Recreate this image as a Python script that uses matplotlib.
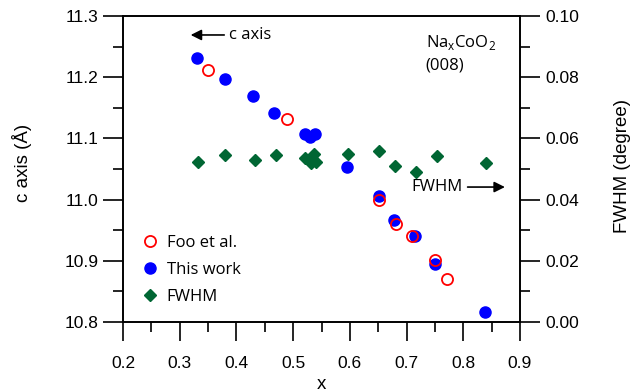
import matplotlib
matplotlib.use("Agg")
import matplotlib.pyplot as plt
from matplotlib.lines import Line2D

# Foo et al. (open red circles)
foo_x = [0.350, 0.490, 0.651, 0.681, 0.710, 0.750, 0.771]
foo_c = [11.211, 11.131, 11.000, 10.960, 10.941, 10.901, 10.870]

# This work (filled blue circles)
this_x = [0.330, 0.379, 0.430, 0.467, 0.521, 0.530, 0.539, 0.595, 0.651, 0.677, 0.715, 0.751, 0.838]
this_c = [11.231, 11.197, 11.170, 11.141, 11.107, 11.103, 11.107, 11.053, 11.006, 10.967, 10.941, 10.895, 10.817]

# FWHM (green diamonds, right axis)
fwhm_x = [0.332, 0.380, 0.432, 0.469, 0.521, 0.531, 0.537, 0.540, 0.596, 0.652, 0.679, 0.717, 0.753, 0.840]
fwhm_v = [0.0524, 0.0546, 0.0529, 0.0546, 0.0535, 0.0519, 0.0549, 0.0524, 0.0549, 0.0560, 0.0511, 0.0491, 0.0542, 0.0521]

x_ticks = [0.2, 0.3, 0.4, 0.5, 0.6, 0.7, 0.8, 0.9]
c_ticks = [10.8, 10.9, 11.0, 11.1, 11.2, 11.3]
f_ticks = [0.00, 0.02, 0.04, 0.06, 0.08, 0.10]

TICKFONT = "Liberation Sans"
NOTEFONT = "Open Sans"
BLUE = "#0000ff"
RED = "#ff0000"
GREEN = "#006633"

fig = plt.figure(figsize=(6.36, 3.92), dpi=100)
ax = fig.add_axes([123/636, 1-322/392, 397/636, 306/392])
ax2 = ax.twinx()

ax.plot(this_x, this_c, 'o', color=BLUE, markersize=8, zorder=3)
ax.plot(foo_x, foo_c, 'o', markerfacecolor='none', markeredgecolor=RED,
        markeredgewidth=1.3, markersize=8, zorder=4)
ax2.plot(fwhm_x, fwhm_v, 'D', color=GREEN, markersize=6, zorder=3)

ax.set_xlim(0.2, 0.9)
ax.set_ylim(10.8, 11.3)
ax2.set_ylim(0.0, 0.10)

ax.set_xticks(x_ticks)
ax.set_xticklabels([f"{v:.1f}" for v in x_ticks], fontfamily=TICKFONT, fontsize=12.5)
ax.set_xticks([v + 0.05 for v in x_ticks[:-1]], minor=True)
ax.set_yticks(c_ticks)
ax.set_yticklabels([f"{v:.1f}" for v in c_ticks], fontfamily=TICKFONT, fontsize=12.5)
ax.set_yticks([v + 0.05 for v in c_ticks[:-1]], minor=True)
ax2.set_yticks(f_ticks)
ax2.set_yticklabels([f"{v:.2f}" for v in f_ticks], fontfamily=TICKFONT, fontsize=12.5)
ax2.set_yticks([v + 0.01 for v in f_ticks[:-1]], minor=True)

for a in (ax, ax2):
    for s in a.spines.values():
        s.set_linewidth(1.2)
ax.tick_params(axis='both', which='major', direction='out', length=14.5, width=1.2, colors='black')
ax.tick_params(axis='both', which='minor', direction='out', length=7, width=1.2)
ax.tick_params(axis='y', which='major', pad=3)
ax.tick_params(axis='x', which='major', length=13.5, pad=11)
ax2.tick_params(axis='y', which='major', direction='out', length=14.5, width=1.2, pad=4)
ax2.tick_params(axis='y', which='minor', direction='out', length=7, width=1.2)

ax.set_xlabel("x", fontfamily=TICKFONT, fontsize=13.5)
ax.xaxis.set_label_coords(0.5, -0.175)
ax.set_ylabel("c axis (Å)", fontfamily=TICKFONT, fontsize=13.5)
ax.yaxis.set_label_coords(-0.228, 0.52)
ax2.set_ylabel("FWHM (degree)", fontfamily=TICKFONT, fontsize=13.5)
ax2.yaxis.set_label_coords(1.236, 0.51)

# annotations
ax.annotate("", xy=(0.1705, 0.938), xytext=(0.255, 0.938), xycoords='axes fraction',
            arrowprops=dict(arrowstyle='-|>', color='black', lw=1.2, mutation_scale=16,
                            shrinkA=0, shrinkB=0))
ax.text(0.267, 0.938, "c axis", transform=ax.transAxes, fontfamily=NOTEFONT,
        fontsize=12, va='center', ha='left')
ax.text(0.727, 0.441, "FWHM", transform=ax.transAxes, fontfamily=NOTEFONT,
        fontsize=12, va='center', ha='left')
ax.annotate("", xy=(0.962, 0.441), xytext=(0.868, 0.441), xycoords='axes fraction',
            arrowprops=dict(arrowstyle='-|>', color='black', lw=1.2, mutation_scale=16,
                            shrinkA=0, shrinkB=0))
ax.text(0.762, 0.913, r"Na$_\mathregular{x}$CoO$_\mathregular{2}$", transform=ax.transAxes,
        fontfamily=NOTEFONT, fontsize=12, va='center', ha='left')
ax.text(0.762, 0.838, "(008)", transform=ax.transAxes, fontfamily=NOTEFONT,
        fontsize=12, va='center', ha='left')

handles = [
    Line2D([], [], linestyle='none', marker='o', markerfacecolor='none',
           markeredgecolor=RED, markeredgewidth=1.3, markersize=8),
    Line2D([], [], linestyle='none', marker='o', color=BLUE, markersize=8),
    Line2D([], [], linestyle='none', marker='D', color=GREEN, markersize=6),
]
ax2.legend(handles, ["Foo et al.", "This work", "FWHM"], loc='lower left',
           bbox_to_anchor=(0.03, 0.035), frameon=False, handlelength=1.0,
           handletextpad=0.5, labelspacing=0.65, borderaxespad=0,
           prop={'family': NOTEFONT, 'size': 12})

fig.savefig("out.png", dpi=100)
